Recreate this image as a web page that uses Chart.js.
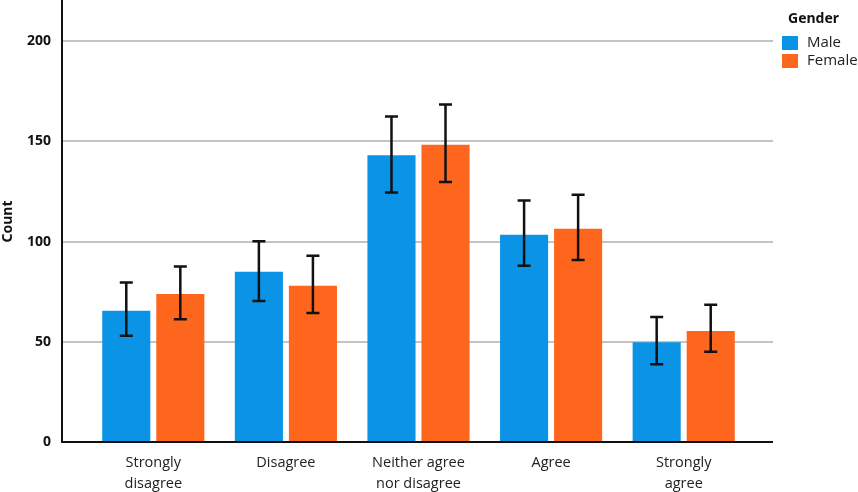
<!DOCTYPE html>
<html>
<head>
<meta charset="utf-8">
<script src="https://cdn.jsdelivr.net/npm/chart.js@4.4.0/dist/chart.umd.min.js"></script>
<style>
  html, body { margin: 0; padding: 0; background: #ffffff; }
  #wrap { width: 858px; height: 492px; position: relative; }
</style>
</head>
<body>
<div id="wrap"><canvas id="c" width="858" height="492"></canvas></div>
<script>
const categories = [['Strongly', 'disagree'], 'Disagree', ['Neither agree', 'nor disagree'], 'Agree', ['Strongly', 'agree']];
const seriesNames = ['Male', 'Female'];
const maleCounts = [65.5, 84.9, 143.1, 103.4, 49.7];
const maleLow = [53.0, 70.3, 124.5, 87.9, 38.8];
const maleHigh = [79.6, 100.1, 162.4, 120.5, 62.3];
const femaleCounts = [73.8, 78.0, 148.3, 106.4, 55.4];
const femaleLow = [61.2, 64.3, 129.7, 90.8, 45.0];
const femaleHigh = [87.6, 92.9, 168.4, 123.3, 68.5];
const yTicks = [0, 50, 100, 150, 200];
const legendTitle = 'Gender';
const yTitle = 'Count';

const COLORS = ['#0b94e6', '#ff661d'];
const AXIS_LEFT = 62, AXIS_RIGHT = 773;

const errorRanges = [[maleLow, maleHigh], [femaleLow, femaleHigh]];

const customPlugin = {
  id: 'custom',
  beforeDatasetsDraw(chart) {
    const ctx = chart.ctx, y = chart.scales.y;
    ctx.save();
    ctx.strokeStyle = '#c3c3c3';
    ctx.lineWidth = 2;
    yTicks.forEach(v => {
      if (v === 0) return;
      const py = Math.round(y.getPixelForValue(v));
      ctx.beginPath();
      ctx.moveTo(AXIS_LEFT, py);
      ctx.lineTo(AXIS_RIGHT, py);
      ctx.stroke();
    });
    ctx.restore();
  },
  afterDatasetsDraw(chart) {
    const ctx = chart.ctx, y = chart.scales.y;
    ctx.save();
    // error bars
    ctx.strokeStyle = '#111111';
    ctx.lineWidth = 2.5;
    chart.data.datasets.forEach((ds, di) => {
      const meta = chart.getDatasetMeta(di);
      meta.data.forEach((bar, i) => {
        const x = bar.x;
        const lo = y.getPixelForValue(errorRanges[di][0][i]);
        const hi = y.getPixelForValue(errorRanges[di][1][i]);
        ctx.beginPath();
        ctx.moveTo(x, lo); ctx.lineTo(x, hi);
        ctx.moveTo(x - 6.5, lo); ctx.lineTo(x + 6.5, lo);
        ctx.moveTo(x - 6.5, hi); ctx.lineTo(x + 6.5, hi);
        ctx.stroke();
      });
    });
    // axes
    const y0 = y.getPixelForValue(0);
    ctx.strokeStyle = '#111111';
    ctx.lineWidth = 2;
    ctx.beginPath();
    ctx.moveTo(AXIS_LEFT, 0);
    ctx.lineTo(AXIS_LEFT, y0);
    ctx.lineTo(AXIS_RIGHT, y0);
    ctx.stroke();
    // legend
    ctx.fillStyle = '#111111';
    ctx.font = 'bold 14px "Noto Sans", sans-serif';
    ctx.textBaseline = 'middle';
    ctx.textAlign = 'left';
    ctx.fillText(legendTitle, 788, 19);
    ctx.font = '15px "Open Sans", sans-serif';
    chart.data.datasets.forEach((ds, di) => {
      const top = 36 + di * 18;
      ctx.fillStyle = ds.backgroundColor;
      ctx.fillRect(782, top, 16, 14);
      ctx.fillStyle = '#222222';
      ctx.fillText(ds.label, 807, top + 7);
    });
    ctx.restore();
  }
};

new Chart(document.getElementById('c'), {
  type: 'bar',
  data: {
    labels: categories,
    datasets: [
      { label: seriesNames[0], data: maleCounts, backgroundColor: COLORS[0] },
      { label: seriesNames[1], data: femaleCounts, backgroundColor: COLORS[1] }
    ]
  },
  options: {
    responsive: false,
    animation: false,
    devicePixelRatio: 1,
    layout: { padding: { top: 1, right: 108, left: 0, bottom: 0 } },
    datasets: { bar: { categoryPercentage: 0.815, barPercentage: 0.89 } },
    plugins: { legend: { display: false }, tooltip: { enabled: false } },
    scales: {
      x: {
        grid: { display: false, drawTicks: false },
        border: { display: false },
        ticks: {
          color: '#222222',
          font: { family: '"Open Sans", sans-serif', size: 14.5, lineHeight: 1.4 },
          padding: 11,
          maxRotation: 0,
          autoSkip: false
        },
        afterFit(s) { s.height = 50; }
      },
      y: {
        min: 0,
        max: 220,
        grid: { display: false, drawTicks: false },
        border: { display: false },
        ticks: {
          color: '#111111',
          font: { family: '"Noto Sans", sans-serif', size: 14, weight: 'bold' },
          padding: 36
        },
        afterBuildTicks(s) { s.ticks = yTicks.map(v => ({ value: v })); },
        title: {
          display: true,
          text: yTitle,
          color: '#111111',
          font: { family: '"Noto Sans", sans-serif', size: 14, weight: 'bold' },
          padding: 0
        },
        afterFit(s) { s.width = 87; s.paddingTop = 0; s.paddingBottom = 0; }
      }
    }
  },
  plugins: [customPlugin]
});
</script>
</body>
</html>
